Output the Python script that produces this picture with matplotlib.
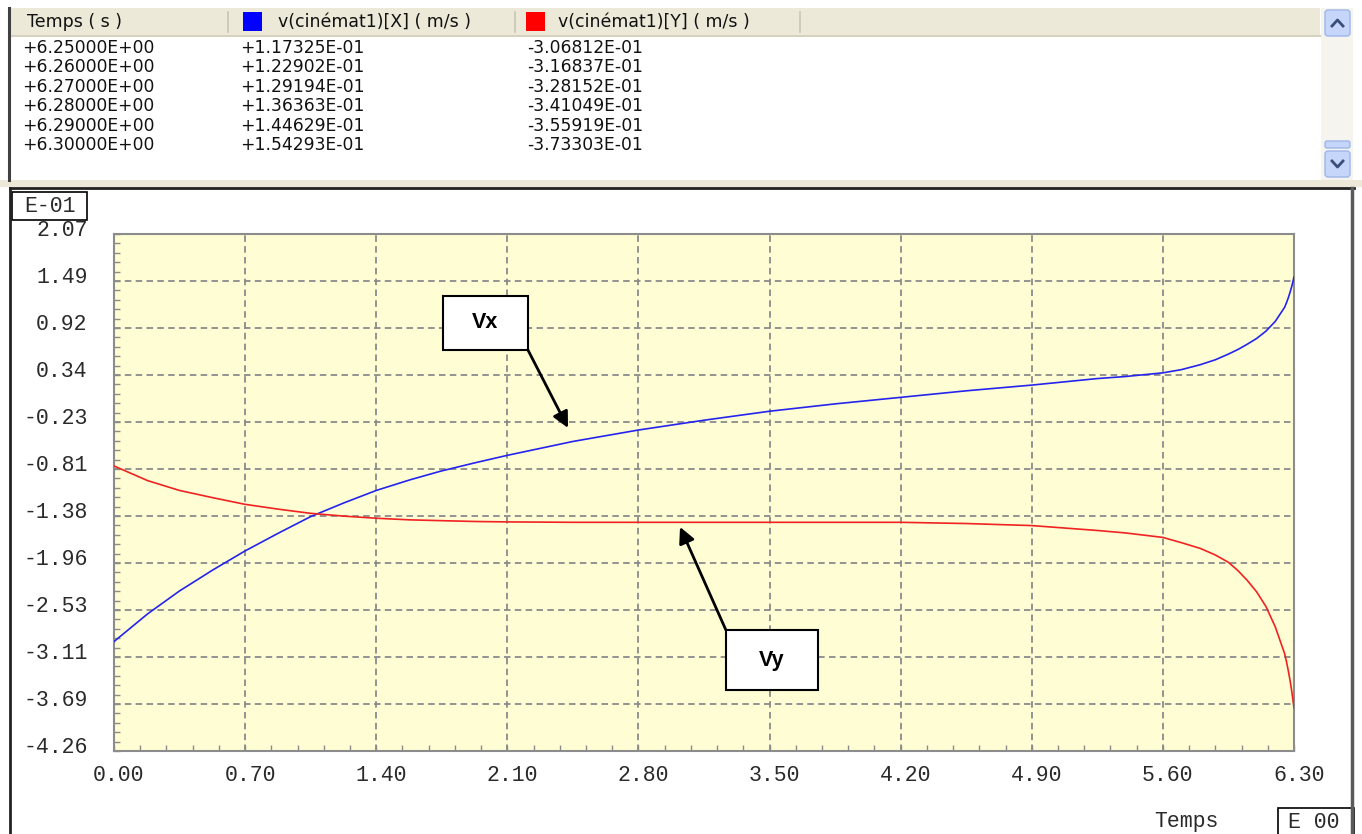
import numpy as np
import matplotlib.pyplot as plt
from matplotlib.patches import Rectangle, FancyBboxPatch
from matplotlib.ticker import FixedLocator
import matplotlib.transforms as mtransforms

# Courbes (valeurs en E-01 m/s)
temps = [0.00, 0.18, 0.35, 0.53, 0.70, 0.88, 1.05, 1.23, 1.40, 1.58,
         1.75, 1.93, 2.10, 2.45, 2.80, 3.15, 3.50, 3.85, 4.20, 4.55,
         4.90, 5.25, 5.40, 5.60, 5.70, 5.80, 5.88, 5.95, 6.00, 6.05,
         6.10, 6.15, 6.20, 6.25, 6.26, 6.27, 6.28, 6.29, 6.30]
vx = [-2.92, -2.58, -2.30, -2.04, -1.81, -1.59, -1.39, -1.22, -1.07, -0.94,
      -0.83, -0.73, -0.64, -0.47, -0.33, -0.21, -0.10, -0.01, 0.07, 0.15,
      0.22, 0.30, 0.325, 0.37, 0.41, 0.47, 0.53, 0.60, 0.655, 0.72,
      0.79, 0.88, 1.00, 1.173, 1.229, 1.292, 1.364, 1.446, 1.543]
vy = [-0.77, -0.95, -1.07, -1.16, -1.24, -1.30, -1.35, -1.385, -1.41, -1.43,
      -1.44, -1.45, -1.455, -1.46, -1.46, -1.46, -1.46, -1.46, -1.46, -1.475,
      -1.50, -1.56, -1.59, -1.645, -1.71, -1.78, -1.86, -1.95, -2.05, -2.17,
      -2.31, -2.49, -2.74, -3.068, -3.168, -3.282, -3.410, -3.559, -3.733]

# Tableau de valeurs
col_headers = ["Temps ( s )", "v(cinémat1)[X] ( m/s )", "v(cinémat1)[Y] ( m/s )"]
tab_temps = ["+6.25000E+00", "+6.26000E+00", "+6.27000E+00",
             "+6.28000E+00", "+6.29000E+00", "+6.30000E+00"]
tab_vx = ["+1.17325E-01", "+1.22902E-01", "+1.29194E-01",
          "+1.36363E-01", "+1.44629E-01", "+1.54293E-01"]
tab_vy = ["-3.06812E-01", "-3.16837E-01", "-3.28152E-01",
          "-3.41049E-01", "-3.55919E-01", "-3.73303E-01"]

y_labels = ["2.07", "1.49", "0.92", "0.34", "-0.23", "-0.81", "-1.38",
            "-1.96", "-2.53", "-3.11", "-3.69", "-4.26"]
x_labels = ["0.00", "0.70", "1.40", "2.10", "2.80", "3.50", "4.20",
            "4.90", "5.60", "6.30"]

W, H = 1362, 834
fig = plt.figure(figsize=(W / 100, H / 100), dpi=100, facecolor="white")

mono = "Liberation Mono"
grid_col = "#8a8a8a"
lab_col = "#2a2a2a"

# Zone du graphe
ax = fig.add_axes([114 / W, 1 - 751 / H, 1180 / W, 517 / H], zorder=2)
ax.set_facecolor("#FEFDD4")
ax.plot(temps, vx, color="#2424EE", lw=1.2, zorder=3)
ax.plot(temps, vy, color="#F02222", lw=1.2, zorder=3)
ax.set_xlim(0, 6.3)
ax.set_ylim(-4.26, 2.07)

ax.yaxis.set_major_locator(FixedLocator(np.linspace(2.07, -4.26, len(y_labels))))
ax.set_yticklabels(y_labels, fontfamily=mono, fontsize=15.5)
ax.yaxis.set_minor_locator(FixedLocator(np.linspace(2.07, -4.26, 56)))
ax.xaxis.set_major_locator(FixedLocator(np.linspace(0, 6.3, len(x_labels))))
ax.set_xticklabels(x_labels, fontfamily=mono, fontsize=15.5)
ax.xaxis.set_minor_locator(FixedLocator(np.linspace(0, 6.3, 46)))
ax.tick_params(which="both", direction="in", color=grid_col, length=4, width=1)
ax.tick_params(axis="y", pad=19, labelcolor=lab_col)
ax.tick_params(axis="x", pad=10, labelcolor=lab_col)
for lab in ax.get_yticklabels():
    lab.set_transform(lab.get_transform() + mtransforms.ScaledTranslation(0, 6 / 100, fig.dpi_scale_trans))
for lab in ax.get_xticklabels():
    lab.set_transform(lab.get_transform() + mtransforms.ScaledTranslation(5 / 100, 0, fig.dpi_scale_trans))

ax.grid(True, which="major", color=grid_col, lw=1.3, dashes=(3.6, 2.4))
for sp in ax.spines.values():
    sp.set_color("#8c8c8c")
    sp.set_linewidth(1.5)

# Etiquettes Vx / Vy
def label_box(x0, x1, y0, y1, txt, tail, head):
    ax.add_patch(Rectangle((x0, y0), x1 - x0, y1 - y0, facecolor="white",
                           edgecolor="black", lw=1.5, zorder=5))
    ax.text((x0 + x1) / 2, (y0 + y1) / 2, txt, ha="center", va="center",
            fontfamily="Liberation Sans", fontweight="bold", fontsize=15.5, zorder=6)
    ax.annotate("", xy=head, xytext=tail,
                arrowprops=dict(arrowstyle="-|>", color="black", lw=2,
                                mutation_scale=24, shrinkA=0, shrinkB=0), zorder=6)

label_box(1.757, 2.210, 0.650, 1.311, "Vx", (2.21, 0.65), (2.424, -0.305))
label_box(3.267, 3.759, -3.513, -2.779, "Vy", (3.267, -2.779), (3.022, -1.517))

# Habillage de la fenêtre (coordonnées en pixels)
ov = fig.add_axes([0, 0, 1, 1], zorder=5)
ov.set_xlim(0, W)
ov.set_ylim(H, 0)
ov.axis("off")
ov.patch.set_alpha(0)

beige = "#ECE9D8"
# en-tête du tableau
ov.add_patch(Rectangle((10, 8), 1310, 28, facecolor=beige, edgecolor="none"))
ov.plot([10, 1320], [36, 36], color="#D5D2C2", lw=1.5)
for xs in [228, 515, 800]:
    ov.plot([xs, xs], [12, 32], color="#C8C5B4", lw=1.2)
ov.add_patch(Rectangle((243, 12), 19, 19, facecolor="#0000FF", edgecolor="none"))
ov.add_patch(Rectangle((526, 12), 19, 19, facecolor="#FF0000", edgecolor="none"))
hfont = dict(fontfamily="DejaVu Sans", fontsize=12.5, va="center", color="#111111")
tfont = dict(fontfamily="DejaVu Sans", fontsize=12.3, va="center", color="#111111")
for xh, txt in zip([27, 278, 558], col_headers):
    ov.text(xh, 22, txt, **hfont)
row_y = [48, 67, 86.5, 106, 125.5, 145]
for xc, col in zip([22, 240, 527], [tab_temps, tab_vx, tab_vy]):
    for yr, txt in zip(row_y, col):
        ov.text(xc, yr, txt, **tfont)
ov.plot([9, 9], [8, 180], color="#404040", lw=2.2)

# barre de défilement
ov.add_patch(Rectangle((1321, 8), 32, 172, facecolor="#F5F4EF", edgecolor="none"))
for yb in [10, 151]:
    ov.add_patch(FancyBboxPatch((1325, yb), 25, 26, boxstyle="round,pad=0,rounding_size=3",
                                facecolor="#C6D6FA", edgecolor="#9EB6EA", lw=1))
ov.add_patch(FancyBboxPatch((1325, 141), 25, 7, boxstyle="round,pad=0,rounding_size=2",
                            facecolor="#C6D6FA", edgecolor="#9EB6EA", lw=1))
ov.plot([1332, 1337.5, 1343], [26, 20, 26], color="#3A4E7A", lw=2)
ov.plot([1332, 1337.5, 1343], [161, 167, 161], color="#3A4E7A", lw=2)

# séparation tableau / graphe
ov.add_patch(Rectangle((0, 180), W, 7, facecolor=beige, edgecolor="none"))
ov.plot([10, 1354], [188, 188], color="#222222", lw=2)
ov.plot([10, 10], [188, H], color="#222222", lw=2)
ov.plot([1352, 1352], [188, H], color="#5a5a5a", lw=2.5)

# cadres d'unités
ov.add_patch(Rectangle((12, 192), 75, 28, facecolor="white", edgecolor="black", lw=1.2))
ov.text(49.5, 206, "E-01", fontfamily=mono, fontsize=15.5, ha="center", va="center", color=lab_col)
ov.add_patch(Rectangle((1278, 808), 76, 30, facecolor="white", edgecolor="black", lw=1.2))
ov.text(1314, 822, "E 00", fontfamily=mono, fontsize=15.5, ha="center", va="center", color=lab_col)
ov.text(1186, 822, "Temps", fontfamily=mono, fontsize=15.5, ha="center", va="center", color=lab_col)

fig.savefig("out.png", dpi=100)
